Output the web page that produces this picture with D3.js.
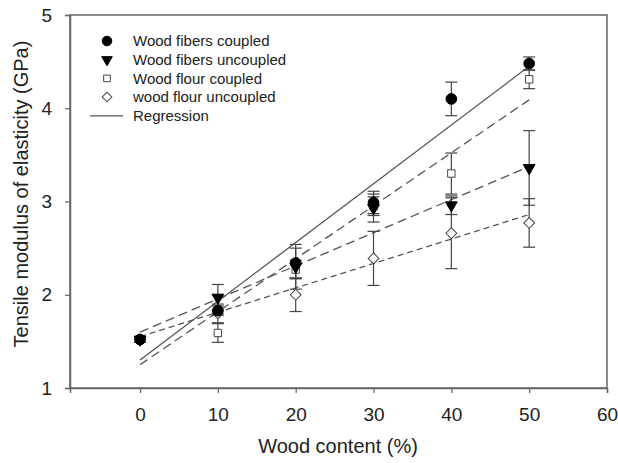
<!DOCTYPE html>
<html>
<head>
<meta charset="utf-8">
<script src="https://cdn.jsdelivr.net/npm/d3@7"></script>
<style>
	body { margin: 0; background: #fff; }
	text { font-family: Arial, "Liberation Sans", sans-serif; fill: #222; }
</style>
</head>
<body>
<div id="chart"></div>
<script>
// Values
const woodContent = [0, 10, 20, 30, 40, 50];
const fibersCoupled = [1.52, 1.83, 2.34, 2.99, 4.10, 4.48];
const fibersCoupledErr = [0.03, 0.05, 0.16, 0.12, 0.18, 0.07];
const fibersUncoupled = [1.52, 1.97, 2.30, 2.93, 2.96, 3.36];
const fibersUncoupledErr = [0.03, 0.14, 0.24, 0.15, 0.10, 0.40];
const flourCoupled = [1.52, 1.59, 2.27, 2.95, 3.30, 4.31];
const flourCoupledErr = [0.03, 0.10, 0.10, 0.10, 0.22, 0.10];
const flourUncoupled = [1.52, 1.80, 2.00, 2.39, 2.66, 2.77];
const flourUncoupledErr = [0.03, 0.10, 0.18, 0.29, 0.38, 0.26];

// regression lines: [intercept, slope]
const regFibersCoupled = [1.30, 0.063];
const regFibersUncoupled = [1.60, 0.0355];
const regFlourCoupled = [1.25, 0.0568];
const regFlourUncoupled = [1.55, 0.0262];

const xTicks = [0, 10, 20, 30, 40, 50, 60];
const yTicks = [1, 2, 3, 4, 5];
const legendLabels = ["Wood fibers coupled", "Wood fibers uncoupled", "Wood flour coupled", "wood flour uncoupled", "Regression"];

const width = 618, height = 463;
const margin = { left: 70, right: 11, top: 15, bottom: 75 };

const svg = d3.select('#chart').append('svg')
	.attr('width', width)
	.attr('height', height);

const x = d3.scaleLinear().domain([-9, 60]).range([margin.left, width - margin.right]);
const y = d3.scaleLinear().domain([1, 5]).range([height - margin.bottom, margin.top]);

const axisColor = '#666';

// frame
svg.append('rect')
	.attr('x', x(-9)).attr('y', y(5))
	.attr('width', x(60) - x(-9)).attr('height', y(1) - y(5))
	.attr('fill', 'none').attr('stroke', axisColor).attr('stroke-width', 1.5);

// axes
const xAxis = svg.append('g')
	.attr('transform', `translate(0,${y(1)})`)
	.call(d3.axisBottom(x).tickValues(xTicks).tickSize(5).tickPadding(15).tickFormat(d3.format('d')));
const yAxis = svg.append('g')
	.attr('transform', `translate(${x(-9)},0)`)
	.call(d3.axisLeft(y).tickValues(yTicks).tickSize(5).tickPadding(13).tickFormat(d3.format('d')));

[xAxis, yAxis].forEach(a => {
	a.select('.domain').attr('stroke', axisColor).attr('stroke-width', 1.5);
	a.selectAll('.tick line').attr('stroke', axisColor).attr('stroke-width', 1.2);
	a.selectAll('.tick text').attr('font-size', 19).style('fill', '#222');
});

// axis titles
svg.append('text')
	.attr('x', 338).attr('y', 453)
	.attr('text-anchor', 'middle')
	.attr('font-size', 20)
	.text('Wood content (%)');
svg.append('text')
	.attr('transform', 'translate(28,194) rotate(-90)')
	.attr('text-anchor', 'middle')
	.attr('font-size', 20)
	.text('Tensile modulus of elasticity (GPa)');

// regression lines
const regs = [
	{ p: regFibersCoupled, dash: null },
	{ p: regFlourCoupled, dash: '9,5' },
	{ p: regFibersUncoupled, dash: '9,5' },
	{ p: regFlourUncoupled, dash: '6,4' }
];
svg.append('g').selectAll('line')
	.data(regs)
	.join('line')
	.attr('x1', x(0)).attr('x2', x(50))
	.attr('y1', d => y(d.p[0]))
	.attr('y2', d => y(d.p[0] + d.p[1] * 50))
	.attr('stroke', '#555')
	.attr('stroke-width', 1.3)
	.attr('stroke-dasharray', d => d.dash);

// series (diamond = square turned 45deg)
const series = [
	{ vals: fibersCoupled, err: fibersCoupledErr, sym: d3.symbolCircle, size: 90, fill: '#000', rot: 0 },
	{ vals: fibersUncoupled, err: fibersUncoupledErr, sym: d3.symbolTriangle, size: 60, fill: '#000', rot: 180 },
	{ vals: flourCoupled, err: flourCoupledErr, sym: d3.symbolSquare, size: 55, fill: '#fff', rot: 0 },
	{ vals: flourUncoupled, err: flourUncoupledErr, sym: d3.symbolSquare, size: 58, fill: '#fff', rot: 45 }
];

const errG = svg.append('g').attr('stroke', '#444').attr('stroke-width', 1.2);
series.forEach(s => {
	const pts = woodContent.map((w, i) => ({ w, v: s.vals[i], e: s.err[i] }));
	errG.append('g').selectAll('line')
		.data(pts).join('line')
		.attr('x1', d => x(d.w)).attr('x2', d => x(d.w))
		.attr('y1', d => y(d.v - d.e)).attr('y2', d => y(d.v + d.e));
	[-1, 1].forEach(sg => {
		errG.append('g').selectAll('line')
			.data(pts).join('line')
			.attr('x1', d => x(d.w) - 6).attr('x2', d => x(d.w) + 6)
			.attr('y1', d => y(d.v + sg * d.e)).attr('y2', d => y(d.v + sg * d.e));
	});
});

const markG = svg.append('g');
series.slice().reverse().forEach(s => {
	markG.append('g').selectAll('path')
		.data(woodContent.map((w, i) => ({ w, v: s.vals[i] })))
		.join('path')
		.attr('d', d3.symbol().type(s.sym).size(s.size))
		.attr('transform', d => `translate(${x(d.w)},${y(d.v)}) rotate(${s.rot})`)
		.attr('fill', s.fill)
		.attr('stroke', s.fill === '#000' ? '#000' : '#444')
		.attr('stroke-width', 1);
});

// legend
const legend = svg.append('g').attr('transform', 'translate(107,41)');
const rowH = 18.7;
legendLabels.forEach((label, i) => {
	const row = legend.append('g').attr('transform', `translate(0,${i * rowH})`);
	if (i < 4) {
		const s = series[i];
		row.append('path')
			.attr('d', d3.symbol().type(s.sym).size(s.size * 0.8))
			.attr('transform', `rotate(${s.rot})`)
			.attr('fill', s.fill)
			.attr('stroke', s.fill === '#000' ? '#000' : '#444');
	} else {
		row.append('line')
			.attr('x1', -17).attr('x2', 16)
			.attr('stroke', '#555').attr('stroke-width', 1.3);
	}
	row.append('text')
		.attr('x', 26).attr('dy', '0.35em')
		.attr('font-size', 15)
		.text(label);
});
</script>
</body>
</html>
